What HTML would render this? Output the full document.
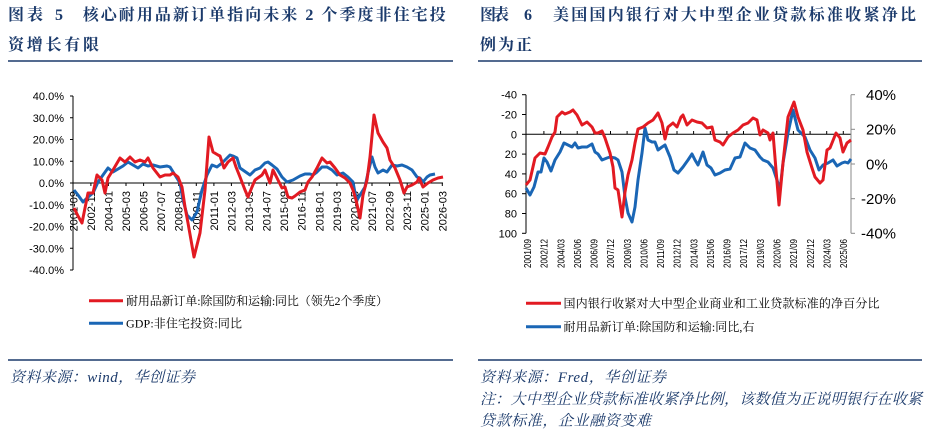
<!DOCTYPE html>
<html><head><meta charset="utf-8"><style>
html,body{margin:0;padding:0;background:#fff;}
body{width:929px;height:444px;overflow:hidden;}
svg{display:block;}
.t{font-family:"Liberation Serif","Noto Serif CJK SC",serif;font-weight:bold;fill:#1B3A6B;font-size:16px;}
.lg{font-family:"Liberation Serif","Noto Serif CJK SC",serif;fill:#000;font-size:12px;}
.ft{font-family:"Liberation Serif","Noto Serif CJK SC",serif;font-style:italic;fill:#1B3A6B;font-size:15px;}
.ax{font-family:"Liberation Sans",sans-serif;fill:#000;font-size:11px;}
.xr{font-family:"Liberation Sans",sans-serif;fill:#000;font-size:10.5px;}
.ra{font-family:"Liberation Sans",sans-serif;fill:#000;font-size:15px;}
</style></head><body>
<svg width="929" height="444" viewBox="0 0 929 444" xmlns="http://www.w3.org/2000/svg">
<rect width="929" height="444" fill="#fff"/>

<!-- Titles left -->
<text class="t" x="8" y="20" textLength="35">图表</text>
<text class="t" x="55" y="20">5</text>
<text class="t" x="82.7" y="20" textLength="363">核心耐用品新订单指向未来 2 个季度非住宅投</text>
<text class="t" x="8" y="50" textLength="91">资增长有限</text>
<line x1="8" y1="61" x2="453" y2="61" stroke="#1B3A6B" stroke-width="1.5"/>

<!-- Titles right -->
<text class="t" x="480" y="20" textLength="29">图表</text>
<text class="t" x="524" y="20">6</text>
<text class="t" x="553" y="20" textLength="363">美国国内银行对大中型企业贷款标准收紧净比</text>
<text class="t" x="480" y="50" textLength="52">例为正</text>
<line x1="478" y1="61" x2="922" y2="61" stroke="#1B3A6B" stroke-width="1.5"/>

<!-- LEFT CHART -->
<g stroke="#000" stroke-width="1">
<line x1="73" y1="96" x2="73" y2="270"/>
<line x1="70" y1="96" x2="73" y2="96"/>
<line x1="70" y1="117.75" x2="73" y2="117.75"/>
<line x1="70" y1="139.5" x2="73" y2="139.5"/>
<line x1="70" y1="161.25" x2="73" y2="161.25"/>
<line x1="70" y1="183" x2="73" y2="183"/>
<line x1="70" y1="204.75" x2="73" y2="204.75"/>
<line x1="70" y1="226.5" x2="73" y2="226.5"/>
<line x1="70" y1="248.25" x2="73" y2="248.25"/>
<line x1="70" y1="270" x2="73" y2="270"/>
<line x1="73" y1="183" x2="443" y2="183"/>
</g>
<g stroke="#000" stroke-width="1">
<line x1="90.9" y1="183" x2="90.9" y2="186"/><line x1="108.4" y1="183" x2="108.4" y2="186"/><line x1="126" y1="183" x2="126" y2="186"/><line x1="143.6" y1="183" x2="143.6" y2="186"/><line x1="161.2" y1="183" x2="161.2" y2="186"/><line x1="178.7" y1="183" x2="178.7" y2="186"/><line x1="196.3" y1="183" x2="196.3" y2="186"/><line x1="213.9" y1="183" x2="213.9" y2="186"/><line x1="231.4" y1="183" x2="231.4" y2="186"/><line x1="249" y1="183" x2="249" y2="186"/><line x1="266.6" y1="183" x2="266.6" y2="186"/><line x1="284.2" y1="183" x2="284.2" y2="186"/><line x1="301.7" y1="183" x2="301.7" y2="186"/><line x1="319.3" y1="183" x2="319.3" y2="186"/><line x1="336.9" y1="183" x2="336.9" y2="186"/><line x1="354.4" y1="183" x2="354.4" y2="186"/><line x1="372" y1="183" x2="372" y2="186"/><line x1="389.6" y1="183" x2="389.6" y2="186"/><line x1="407.2" y1="183" x2="407.2" y2="186"/><line x1="424.7" y1="183" x2="424.7" y2="186"/><line x1="442.3" y1="183" x2="442.3" y2="186"/>
</g>
<g class="ax" text-anchor="end">
<text x="64" y="100">40.0%</text>
<text x="64" y="121.75">30.0%</text>
<text x="64" y="143.5">20.0%</text>
<text x="64" y="165.25">10.0%</text>
<text x="64" y="187">0.0%</text>
<text x="64" y="208.75">-10.0%</text>
<text x="64" y="230.5">-20.0%</text>
<text x="64" y="252.25">-30.0%</text>
<text x="64" y="274">-40.0%</text>
</g>
<g class="ax" text-anchor="end">
<text transform="translate(77.3,191) rotate(-90)">2001-09</text>
<text transform="translate(94.9,191) rotate(-90)">2002-11</text>
<text transform="translate(112.4,191) rotate(-90)">2004-01</text>
<text transform="translate(130,191) rotate(-90)">2005-03</text>
<text transform="translate(147.6,191) rotate(-90)">2006-05</text>
<text transform="translate(165.2,191) rotate(-90)">2007-07</text>
<text transform="translate(182.7,191) rotate(-90)">2008-09</text>
<text transform="translate(200.3,191) rotate(-90)">2009-11</text>
<text transform="translate(217.9,191) rotate(-90)">2011-01</text>
<text transform="translate(235.4,191) rotate(-90)">2012-03</text>
<text transform="translate(253,191) rotate(-90)">2013-05</text>
<text transform="translate(270.6,191) rotate(-90)">2014-07</text>
<text transform="translate(288.2,191) rotate(-90)">2015-09</text>
<text transform="translate(305.7,191) rotate(-90)">2016-11</text>
<text transform="translate(323.3,191) rotate(-90)">2018-01</text>
<text transform="translate(340.9,191) rotate(-90)">2019-03</text>
<text transform="translate(358.4,191) rotate(-90)">2020-05</text>
<text transform="translate(376,191) rotate(-90)">2021-07</text>
<text transform="translate(393.6,191) rotate(-90)">2022-09</text>
<text transform="translate(411.2,191) rotate(-90)">2023-11</text>
<text transform="translate(428.7,191) rotate(-90)">2025-01</text>
<text transform="translate(446.3,191) rotate(-90)">2026-03</text>
</g>
<polyline fill="none" stroke="#1A66B5" stroke-width="3" stroke-linejoin="round" points="74,190 78,195 83,202 87,198 93,193 98,182 103,175 108,168 113,172 118,169 123,166 128,162 133,165 138,168 143,164 148,166 153,165 160,167 167,166 170,167 175,175 180,183 183,200 187,215 192,220 197,212 202,190 207,175 212,165 217,167 222,163 225,160 230,155 233,156 237,158 240,168 250,175 255,170 260,168 265,163 268,162 272,165 277,169 282,177 287,182 293,180 300,176 305,174 310,174 313,175 317,172 322,167 327,167 332,170 337,175 343,173 348,177 353,182 355,193 357,200 360,195 365,187 368,173 372,157 375,167 378,173 383,170 387,172 392,165 397,166 402,165 407,167 412,170 417,177 420,178 423,182 427,177 430,175 435,174"/>
<polyline fill="none" stroke="#E21A22" stroke-width="3" stroke-linejoin="round" points="74,208 78,216 82,223 88,193 93,193 97,175 102,180 105,193 108,178 113,170 120,158 125,162 130,157 135,162 140,160 145,162 148,158 153,168 160,177 165,175 170,175 173,173 178,177 182,187 185,207 188,223 194,257 200,233 205,190 209,137 213,152 218,155 220,156 224,168 228,162 233,158 236,167 240,177 245,190 248,197 252,187 255,180 262,175 265,170 270,183 273,170 278,180 282,188 285,187 288,197 292,198 295,196 300,192 305,190 308,182 312,177 317,168 322,158 327,163 330,162 335,168 340,175 345,178 350,183 353,190 356,200 360,218 363,195 367,180 370,157 374,115 378,133 383,142 387,148 390,160 395,168 400,180 404,193 407,187 412,185 417,182 419,178 423,187 428,183 433,180 438,178 443,177"/>

<!-- Left legend -->
<line x1="89" y1="300.7" x2="123" y2="300.7" stroke="#E21A22" stroke-width="3"/>
<text class="lg" x="126" y="305" textLength="262">耐用品新订单:除国防和运输:同比（领先2个季度）</text>
<line x1="89" y1="323.3" x2="123" y2="323.3" stroke="#1A66B5" stroke-width="3"/>
<text class="lg" x="126" y="327.5" textLength="116">GDP:非住宅投资:同比</text>

<!-- Left footer -->
<line x1="8" y1="360" x2="453" y2="360" stroke="#1B3A6B" stroke-width="1.5"/>
<text class="ft" x="10" y="382" textLength="185">资料来源：wind，华创证券</text>

<!-- RIGHT CHART -->
<g stroke="#000" stroke-width="1">
<line x1="526" y1="94.7" x2="526" y2="233.3"/>
<line x1="522" y1="94.7" x2="526" y2="94.7"/>
<line x1="522" y1="114.5" x2="526" y2="114.5"/>
<line x1="522" y1="134.3" x2="526" y2="134.3"/>
<line x1="522" y1="154.1" x2="526" y2="154.1"/>
<line x1="522" y1="173.9" x2="526" y2="173.9"/>
<line x1="522" y1="193.7" x2="526" y2="193.7"/>
<line x1="522" y1="213.5" x2="526" y2="213.5"/>
<line x1="522" y1="233.3" x2="526" y2="233.3"/>
<line x1="526" y1="134.3" x2="851" y2="134.3"/>
<line x1="543.9" y1="131" x2="543.9" y2="134.3"/><line x1="560.6" y1="131" x2="560.6" y2="134.3"/><line x1="577.2" y1="131" x2="577.2" y2="134.3"/><line x1="593.8" y1="131" x2="593.8" y2="134.3"/><line x1="610.5" y1="131" x2="610.5" y2="134.3"/><line x1="627.1" y1="131" x2="627.1" y2="134.3"/><line x1="643.7" y1="131" x2="643.7" y2="134.3"/><line x1="660.4" y1="131" x2="660.4" y2="134.3"/><line x1="677" y1="131" x2="677" y2="134.3"/><line x1="693.6" y1="131" x2="693.6" y2="134.3"/><line x1="710.3" y1="131" x2="710.3" y2="134.3"/><line x1="726.9" y1="131" x2="726.9" y2="134.3"/><line x1="743.5" y1="131" x2="743.5" y2="134.3"/><line x1="760.2" y1="131" x2="760.2" y2="134.3"/><line x1="776.8" y1="131" x2="776.8" y2="134.3"/><line x1="793.4" y1="131" x2="793.4" y2="134.3"/><line x1="810.1" y1="131" x2="810.1" y2="134.3"/><line x1="826.7" y1="131" x2="826.7" y2="134.3"/><line x1="843.3" y1="131" x2="843.3" y2="134.3"/>
</g>
<g stroke="#888" stroke-width="1">
<line x1="851" y1="94.7" x2="851" y2="233.3"/>
<line x1="851" y1="94.7" x2="855" y2="94.7"/>
<line x1="851" y1="129.3" x2="855" y2="129.3"/>
<line x1="851" y1="164" x2="855" y2="164"/>
<line x1="851" y1="198.7" x2="855" y2="198.7"/>
<line x1="851" y1="233.3" x2="855" y2="233.3"/>
</g>
<g class="ax" text-anchor="end">
<text x="517" y="98.7">-40</text>
<text x="517" y="118.5">-20</text>
<text x="517" y="138.3">0</text>
<text x="517" y="158.1">20</text>
<text x="517" y="177.9">40</text>
<text x="517" y="197.7">60</text>
<text x="517" y="217.5">80</text>
<text x="517" y="237.3">100</text>
</g>
<g class="ra">
<text x="866" y="100">40%</text>
<text x="866" y="134.7">20%</text>
<text x="866" y="169.4">0%</text>
<text x="861" y="204">-20%</text>
<text x="861" y="238.7">-40%</text>
</g>
<g class="xr" text-anchor="end">
<text transform="translate(531,239) rotate(-90)" textLength="29" lengthAdjust="spacingAndGlyphs">2001/09</text>
<text transform="translate(547.6,239) rotate(-90)" textLength="29" lengthAdjust="spacingAndGlyphs">2002/12</text>
<text transform="translate(564.3,239) rotate(-90)" textLength="29" lengthAdjust="spacingAndGlyphs">2004/03</text>
<text transform="translate(580.9,239) rotate(-90)" textLength="29" lengthAdjust="spacingAndGlyphs">2005/06</text>
<text transform="translate(597.5,239) rotate(-90)" textLength="29" lengthAdjust="spacingAndGlyphs">2006/09</text>
<text transform="translate(614.2,239) rotate(-90)" textLength="29" lengthAdjust="spacingAndGlyphs">2007/12</text>
<text transform="translate(630.8,239) rotate(-90)" textLength="29" lengthAdjust="spacingAndGlyphs">2009/03</text>
<text transform="translate(647.4,239) rotate(-90)" textLength="29" lengthAdjust="spacingAndGlyphs">2010/06</text>
<text transform="translate(664.1,239) rotate(-90)" textLength="29" lengthAdjust="spacingAndGlyphs">2011/09</text>
<text transform="translate(680.7,239) rotate(-90)" textLength="29" lengthAdjust="spacingAndGlyphs">2012/12</text>
<text transform="translate(697.3,239) rotate(-90)" textLength="29" lengthAdjust="spacingAndGlyphs">2014/03</text>
<text transform="translate(714,239) rotate(-90)" textLength="29" lengthAdjust="spacingAndGlyphs">2015/06</text>
<text transform="translate(730.6,239) rotate(-90)" textLength="29" lengthAdjust="spacingAndGlyphs">2016/09</text>
<text transform="translate(747.2,239) rotate(-90)" textLength="29" lengthAdjust="spacingAndGlyphs">2017/12</text>
<text transform="translate(763.9,239) rotate(-90)" textLength="29" lengthAdjust="spacingAndGlyphs">2019/03</text>
<text transform="translate(780.5,239) rotate(-90)" textLength="29" lengthAdjust="spacingAndGlyphs">2020/06</text>
<text transform="translate(797.1,239) rotate(-90)" textLength="29" lengthAdjust="spacingAndGlyphs">2021/09</text>
<text transform="translate(813.8,239) rotate(-90)" textLength="29" lengthAdjust="spacingAndGlyphs">2022/12</text>
<text transform="translate(830.4,239) rotate(-90)" textLength="29" lengthAdjust="spacingAndGlyphs">2024/03</text>
<text transform="translate(847,239) rotate(-90)" textLength="29" lengthAdjust="spacingAndGlyphs">2025/06</text>
</g>
<polyline fill="none" stroke="#1A66B5" stroke-width="3" stroke-linejoin="round" points="526,188 530,195 534,187 538,172 541,172 544,158 547,162 551,171 555,160 560,152 564,143 568,145 572,147 575,143 578,148 582,147 587,147 592,144 595,152 598,154 602,160 607,158 610,157 615,158 618,160 622,172 625,197 628,213 632,222 635,207 638,180 642,153 645,128 648,140 652,142 655,142 658,150 662,147 665,145 670,157 674,170 678,173 683,167 688,160 692,154 695,160 698,165 703,152 707,165 711,168 715,175 720,173 725,170 730,169 735,158 740,157 745,143 750,148 755,150 760,157 763,160 768,162 773,168 777,180 780,190 783,163 788,133 793,110 798,130 805,137 810,150 815,158 819,170 823,165 828,163 833,160 837,166 842,163 845,162 848,163 851,159"/>
<polyline fill="none" stroke="#E21A22" stroke-width="3" stroke-linejoin="round" points="526,185 530,180 535,158 540,153 545,154 548,147 552,137 555,132 557,117 562,112 565,114 570,112 573,110 577,115 582,125 587,122 592,127 595,133 598,133 602,131 605,138 610,153 613,167 615,188 618,190 622,217 625,192 628,175 632,160 635,143 638,129 643,127 648,123 653,120 658,113 662,123 665,139 668,127 673,123 677,127 681,117 683,115 687,125 692,120 697,122 702,123 707,128 712,127 715,140 720,142 723,145 728,137 733,133 738,130 743,125 748,123 753,118 757,120 760,135 763,130 768,133 770,140 773,133 776,170 779,205 783,163 788,117 794,102 798,117 803,130 807,152 812,168 815,177 820,183 823,180 827,150 830,148 836,133 840,138 843,152 847,143 851,140"/>

<!-- Right legend -->
<line x1="526" y1="303.3" x2="561" y2="303.3" stroke="#E21A22" stroke-width="3"/>
<text class="lg" x="563.5" y="307.5" textLength="316">国内银行收紧对大中型企业商业和工业贷款标准的净百分比</text>
<line x1="526" y1="326.7" x2="561" y2="326.7" stroke="#1A66B5" stroke-width="3"/>
<text class="lg" x="563.5" y="331" textLength="191">耐用品新订单:除国防和运输:同比,右</text>

<!-- Right footer -->
<line x1="478" y1="360" x2="922" y2="360" stroke="#1B3A6B" stroke-width="1.5"/>
<text class="ft" x="480" y="382" textLength="186">资料来源：Fred，华创证券</text>
<text class="ft" x="480" y="404" textLength="442">注：大中型企业贷款标准收紧净比例，该数值为正说明银行在收紧</text>
<text class="ft" x="480" y="425.5" textLength="171">贷款标准，企业融资变难</text>
</svg>
</body></html>
